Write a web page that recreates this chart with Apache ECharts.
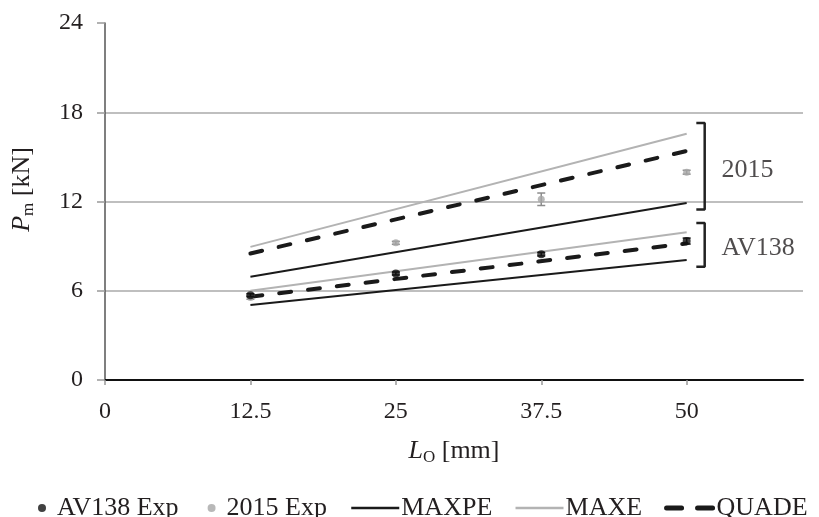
<!DOCTYPE html>
<html>
<head>
<meta charset="utf-8">
<script src="https://cdn.jsdelivr.net/npm/echarts@6/dist/echarts.min.js"></script>
<style>html,body{margin:0;padding:0;background:#fff}#c{width:819px;height:517px}</style>
</head>
<body>
<div id="c"></div>
<script>
// ---- data ----
var xTicks = [0, 12.5, 25, 37.5, 50];
var xFit = [12.5, 50];
var maxpe2015 = [6.94, 11.9];
var maxpeAV138 = [5.04, 8.06];
var maxe2015 = [8.95, 16.56];
var maxeAV138 = [6.0, 9.94];
var quade2015 = [8.5, 15.4];
var quadeAV138 = [5.6, 9.18];
var xExp = [12.5, 25, 37.5, 50];
var av138Exp = [5.7, 7.16, 8.46, 9.34];
var av138Err = [0.1, 0.1, 0.12, 0.2];
var exp2015 = [5.55, 9.22, 12.15, 13.97];
var exp2015Err = [0.12, 0.1, 0.42, 0.13];
var bracket2015 = [[50.83, 17.28], [51.55, 17.28], [51.55, 11.46], [50.83, 11.46]];
var bracketAV138 = [[50.83, 10.56], [51.55, 10.56], [51.55, 7.61], [50.83, 7.61]];
var groupLabels = [[53.0, 14.1, '2015'], [53.0, 8.87, 'AV138']];

var FONT = '"Liberation Serif", "DejaVu Serif", serif';
var TXT = '#231f20';

function pairs(xs, ys) { return xs.map(function (x, i) { return [x, ys[i]]; }); }
function triples(xs, ys, es) { return xs.map(function (x, i) { return [x, ys[i], es[i]]; }); }

function errRender(color) {
  return function (params, api) {
    var x = api.value(0), y = api.value(1), e = api.value(2);
    var top = api.coord([x, y + e]);
    var bot = api.coord([x, y - e]);
    var hw = 4;
    var st = { stroke: color, lineWidth: 1.5 };
    return {
      type: 'group',
      children: [
        { type: 'line', shape: { x1: top[0], y1: top[1], x2: bot[0], y2: bot[1] }, style: st },
        { type: 'line', shape: { x1: top[0] - hw, y1: top[1], x2: top[0] + hw, y2: top[1] }, style: st },
        { type: 'line', shape: { x1: bot[0] - hw, y1: bot[1], x2: bot[0] + hw, y2: bot[1] }, style: st }
      ]
    };
  };
}

var BLACK = '#1a1a1a', GRAY = '#b3b3b3';
function lineSeries(name, ys, color, dashed) {
  return {
    name: name, type: 'line', data: pairs(xFit, ys), symbol: 'none', silent: true,
    lineStyle: dashed ? { color: color, width: 4, type: [12, 17], cap: 'round' } : { color: color, width: 2 },
    itemStyle: { color: color }, z: 3
  };
}

var chart = echarts.init(document.getElementById('c'), null, { renderer: 'canvas' });
chart.setOption({
  animation: false,
  backgroundColor: '#fff',
  textStyle: { fontFamily: FONT, color: TXT },
  grid: { left: 105, right: 16, top: 23, bottom: 137, containLabel: false },
  legend: [
    {
      data: ['AV138 Exp', '2015 Exp'], left: 33, top: 490, icon: 'circle',
      itemWidth: 20, itemHeight: 8, itemGap: 29,
      textStyle: { fontFamily: FONT, fontSize: 26, color: TXT }
    },
    {
      data: [
        { name: 'MAXPE', lineStyle: { width: 2.5 } },
        { name: 'MAXE', lineStyle: { width: 2.5 } },
        { name: 'QUADE', lineStyle: { width: 5, type: [15, 16], cap: 'round' } }
      ],
      left: 345, top: 490,
      itemWidth: 48, itemHeight: 14, itemGap: 22,
      itemStyle: { opacity: 0 },
      textStyle: { fontFamily: FONT, fontSize: 26, color: TXT, padding: [0, 0, 0, -3] }
    }
  ],
  xAxis: {
    type: 'value', min: 0, max: 60, interval: 12.5,
    name: '{i|L}{s|O} [mm]', nameLocation: 'middle', nameGap: 57,
    nameTextStyle: {
      fontFamily: FONT, fontSize: 26, color: TXT,
      rich: { i: { fontStyle: 'italic', fontSize: 26, fontFamily: FONT, color: TXT },
              s: { fontSize: 17, fontFamily: FONT, color: TXT, padding: [12, 0, 0, 0] } }
    },
    axisLine: { show: true, onZero: false, lineStyle: { color: '#111', width: 2 } },
    axisTick: { show: true, length: 5, customValues: xTicks, lineStyle: { color: '#999', width: 1.5 } },
    axisLabel: { customValues: xTicks, fontFamily: FONT, fontSize: 24, color: TXT, margin: 20 },
    splitLine: { show: false }
  },
  yAxis: {
    type: 'value', min: 0, max: 24, interval: 6,
    name: '{i|P}{s|m} [kN]', nameLocation: 'middle', nameGap: 68,
    nameTextStyle: {
      fontFamily: FONT, fontSize: 26, color: TXT, padding: [0, 0, 0, 24],
      rich: { i: { fontStyle: 'italic', fontSize: 26, fontFamily: FONT, color: TXT },
              s: { fontSize: 17, fontFamily: FONT, color: TXT, padding: [12, 0, 0, 0] } }
    },
    axisLine: { show: true, lineStyle: { color: '#555', width: 1.5 } },
    axisTick: { show: true, length: 8, lineStyle: { color: '#999', width: 1.5 } },
    axisLabel: { fontFamily: FONT, fontSize: 24, color: TXT, margin: 22 },
    splitLine: { show: true, showMaxLine: false, showMinLine: false, lineStyle: { color: '#aaa', width: 1.5 } }
  },
  series: [
    lineSeries('MAXE', maxe2015, GRAY, false),
    lineSeries('MAXE', maxeAV138, GRAY, false),
    lineSeries('MAXPE', maxpe2015, BLACK, false),
    lineSeries('MAXPE', maxpeAV138, BLACK, false),
    lineSeries('QUADE', quade2015, BLACK, true),
    lineSeries('QUADE', quadeAV138, BLACK, true),
    {
      name: '2015 Exp', type: 'scatter', data: pairs(xExp, exp2015), symbol: 'circle', symbolSize: 7,
      itemStyle: { color: '#a6a6a6' }, z: 5
    },
    {
      name: '2015 Exp err', type: 'custom', data: triples(xExp, exp2015, exp2015Err),
      renderItem: errRender('#8c8c8c'), z: 5, silent: true
    },
    {
      name: 'AV138 Exp', type: 'scatter', data: pairs(xExp, av138Exp), symbol: 'circle', symbolSize: 8,
      itemStyle: { color: '#111' }, z: 6
    },
    {
      name: 'AV138 Exp err', type: 'custom', data: triples(xExp, av138Exp, av138Err),
      renderItem: errRender('#111'), z: 6, silent: true
    },
    {
      name: 'b1', type: 'line', data: bracket2015, symbol: 'none', silent: true,
      lineStyle: { color: '#222', width: 2.5 }, z: 4
    },
    {
      name: 'b2', type: 'line', data: bracketAV138, symbol: 'none', silent: true,
      lineStyle: { color: '#222', width: 2.5 }, z: 4
    },
    {
      name: 'groups', type: 'scatter', data: groupLabels, symbolSize: 0, silent: true,
      label: {
        show: true, position: 'right', distance: 0,
        formatter: function (p) { return p.value[2]; },
        fontFamily: FONT, fontSize: 26, color: TXT
      }
    }
  ]
});
</script>
</body>
</html>
